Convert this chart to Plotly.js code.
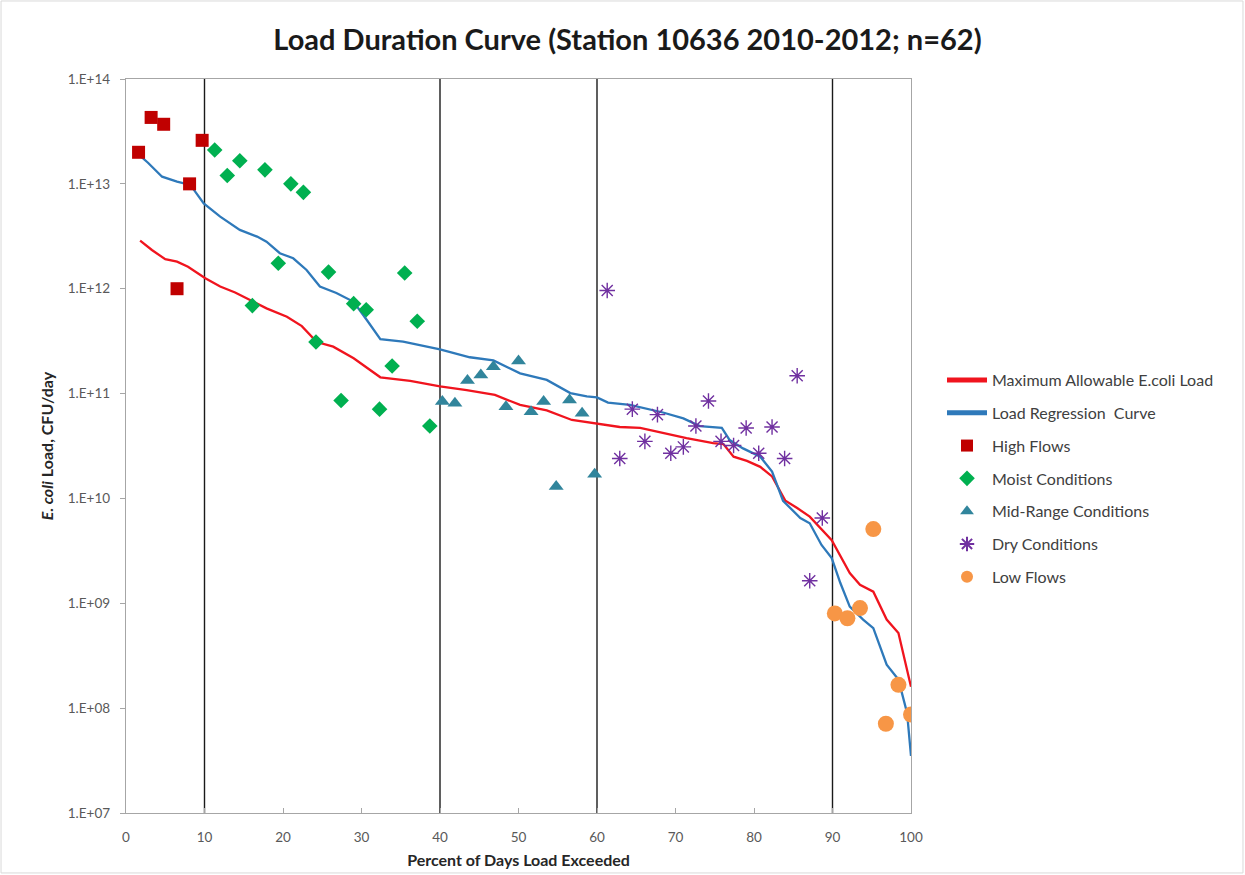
<!DOCTYPE html>
<html>
<head>
<meta charset="utf-8">
<script src="https://cdn.plot.ly/plotly-3.0.1.min.js"></script>
<style>
  html, body { margin: 0; padding: 0; background: #ffffff; }
  #chart { width: 1245px; height: 875px; }
</style>
</head>
<body>
<div id="chart"></div>
<script>
// ---- Data ----
const titleText = 'Load Duration Curve (Station 10636 2010-2012; n=62)';

// Maximum Allowable E.coli Load (red line)
const xMax = [1.8, 3.3, 5.0, 6.5, 7.9, 10.1, 12.0, 13.9, 15.8, 17.9, 20.5, 22.4, 24.3, 26.4, 29.0, 32.4, 36.2, 40.0, 43.4, 47.0, 50.2, 53.6, 56.8, 60.0, 62.9, 65.5, 68.4, 71.4, 74.8, 76.1, 77.4, 79.1, 80.8, 82.3, 84.0, 85.5, 87.1, 89.9, 92.2, 93.5, 95.2, 96.9, 98.4, 100];
const yMax = [2.88e12, 2.34e12, 1.91e12, 1.81e12, 1.62e12, 1.26e12, 1.05e12, 9.2e11, 7.8e11, 6.5e11, 5.4e11, 4.4e11, 3.1e11, 2.8e11, 2.17e11, 1.43e11, 1.32e11, 1.17e11, 1.08e11, 9.7e10, 7.8e10, 6.9e10, 5.6e10, 5.2e10, 4.8e10, 4.7e10, 4.2e10, 3.76e10, 3.37e10, 3.3e10, 2.5e10, 2.28e10, 2.0e10, 1.62e10, 9.5e9, 8.1e9, 6.7e9, 4.0e9, 1.94e9, 1.5e9, 1.29e9, 7.0e8, 5.2e8, 1.6e8];

// Load Regression Curve (blue line)
const xReg = [1.7, 2.8, 4.6, 6.5, 8.2, 9.9, 12.0, 14.5, 16.7, 17.9, 19.6, 21.3, 23.0, 24.7, 26.8, 29.0, 30.7, 32.4, 35.3, 40.0, 43.8, 46.8, 50.2, 53.6, 56.6, 58.7, 60.0, 61.4, 64.2, 68.4, 71.0, 73.1, 75.9, 76.9, 78.6, 80.8, 82.3, 83.7, 85.9, 87.1, 88.6, 89.9, 91.0, 92.2, 93.9, 95.2, 96.9, 98.4, 99.5, 100];
const yReg = [1.88e13, 1.59e13, 1.17e13, 1.05e13, 9.77e12, 6.5e12, 4.87e12, 3.64e12, 3.14e12, 2.81e12, 2.18e12, 1.95e12, 1.51e12, 1.05e12, 9.1e11, 7.5e11, 5.0e11, 3.3e11, 3.13e11, 2.64e11, 2.22e11, 2.07e11, 1.56e11, 1.35e11, 1.01e11, 9.4e10, 9.2e10, 8.2e10, 7.8e10, 6.6e10, 5.8e10, 4.9e10, 4.7e10, 3.6e10, 3.0e10, 2.5e10, 1.8e10, 9.5e9, 6.5e9, 5.8e9, 3.6e9, 2.7e9, 1.56e9, 9.3e8, 7.0e8, 5.8e8, 2.6e8, 1.87e8, 9.0e7, 3.5e7];

// High Flows
const xHigh = [1.6, 3.2, 4.8, 6.5, 8.1, 9.7];
const yHigh = [2.0e13, 4.3e13, 3.7e13, 1.0e12, 1.0e13, 2.6e13];

// Moist Conditions
const xMoist = [11.3, 12.9, 14.5, 16.1, 17.7, 19.4, 21.0, 22.6, 24.2, 25.8, 27.4, 29.0, 30.6, 32.3, 33.9, 35.5, 37.1, 38.7];
const yMoist = [2.1e13, 1.2e13, 1.66e13, 6.9e11, 1.36e13, 1.75e12, 1.0e13, 8.3e12, 3.1e11, 1.44e12, 8.6e10, 7.2e11, 6.3e11, 7.1e10, 1.83e11, 1.41e12, 4.9e11, 4.9e10];

// Mid-Range Conditions
const xMid = [40.3, 41.9, 43.5, 45.2, 46.8, 48.4, 50.0, 51.6, 53.2, 54.8, 56.5, 58.1, 59.7];
const yMid = [8.4e10, 8.1e10, 1.33e11, 1.5e11, 1.8e11, 7.5e10, 2.05e11, 6.7e10, 8.4e10, 1.3e10, 8.7e10, 6.5e10, 1.7e10];

// Dry Conditions
const xDry = [61.3, 62.9, 64.5, 66.1, 67.7, 69.4, 71.0, 72.6, 74.2, 75.8, 77.4, 79.0, 80.6, 82.3, 83.9, 85.5, 87.1, 88.7];
const yDry = [9.6e11, 2.4e10, 7.1e10, 3.5e10, 6.3e10, 2.7e10, 3.1e10, 4.9e10, 8.5e10, 3.5e10, 3.2e10, 4.7e10, 2.7e10, 4.8e10, 2.4e10, 1.48e11, 1.64e9, 6.5e9];

// Low Flows
const xLow = [90.3, 91.9, 93.5, 95.2, 96.8, 98.4, 100];
const yLow = [8.0e8, 7.2e8, 9.0e8, 5.1e9, 7.1e7, 1.67e8, 8.7e7];

// Flow-zone divider positions (percent)
const dividers = [10, 40, 60, 90];

// Axis ticks
const yTickVals = [1e7, 1e8, 1e9, 1e10, 1e11, 1e12, 1e13, 1e14];
const yTickText = ['1.E+07', '1.E+08', '1.E+09', '1.E+10', '1.E+11', '1.E+12', '1.E+13', '1.E+14'];
const xTickVals = [0, 10, 20, 30, 40, 50, 60, 70, 80, 90, 100];

// ---- Chart ----
const FONT = 'Lato, "Open Sans", "DejaVu Sans", sans-serif';

const traces = [
  { x: xMax, y: yMax, name: 'Maximum Allowable E.coli Load', type: 'scatter', mode: 'lines',
    line: { color: '#F0141E', width: 2.3 }, legendgroup: 'a' },
  { x: xReg, y: yReg, name: 'Load Regression  Curve', type: 'scatter', mode: 'lines',
    line: { color: '#2E79BA', width: 2.3 }, legendgroup: 'b' },
  { x: xHigh, y: yHigh, name: 'High Flows', type: 'scatter', mode: 'markers',
    marker: { symbol: 'square', size: 13, color: '#C00000' }, legendgroup: 'c' },
  { x: xMoist, y: yMoist, name: 'Moist Conditions', type: 'scatter', mode: 'markers',
    marker: { symbol: 'diamond', size: 12, color: '#00B050' }, legendgroup: 'd' },
  { x: xMid, y: yMid, name: 'Mid-Range Conditions', type: 'scatter', mode: 'markers',
    marker: { symbol: 'triangle-up', size: 13, color: '#31859C' }, legendgroup: 'e' },
  { x: xDry, y: yDry, name: 'Dry Conditions', type: 'scatter', mode: 'markers',
    marker: { symbol: 'asterisk-open', size: 13, color: '#7030A0', line: { color: '#7030A0', width: 1.4 } }, legendgroup: 'f' },
  { x: xLow, y: yLow, name: 'Low Flows', type: 'scatter', mode: 'markers',
    marker: { symbol: 'circle', size: 16, color: '#F79646' }, legendgroup: 'g' }
];

const shapes = dividers.map(v => ({
  type: 'line', xref: 'x', yref: 'paper', x0: v, x1: v, y0: 0, y1: 1,
  line: { color: '#1A1A1A', width: 1.4 }, layer: 'below'
}));
// outer chart frame
shapes.push({ type: 'rect', xref: 'paper', yref: 'paper',
  x0: -0.1592, x1: 1.4229, y0: -0.0817, y1: 1.1063,
  line: { color: '#D9D9D9', width: 1 }, fillcolor: 'rgba(0,0,0,0)' });

const layout = {
  width: 1245, height: 875,
  margin: { l: 126, r: 334, t: 79, b: 62, pad: 0 },
  paper_bgcolor: '#ffffff', plot_bgcolor: '#ffffff',
  font: { family: FONT, color: '#404040', size: 13 },
  title: { text: titleText, x: 0.504, xanchor: 'center', y: 0.955, yanchor: 'middle',
    font: { family: FONT, size: 29, color: '#1A1A1A', weight: 'bold' } },
  xaxis: {
    type: 'linear', range: [0, 100], tickvals: xTickVals,
    showgrid: false, zeroline: false,
    showline: true, linecolor: '#A6A6A6', linewidth: 1.2, mirror: true,
    ticks: 'inside', ticklen: 5, tickcolor: '#A6A6A6', ticklabelstandoff: 12,
    tickfont: { family: FONT, size: 13.5, color: '#595959' },
    title: { text: 'Percent of Days Load Exceeded', standoff: 10,
      font: { family: FONT, size: 16, color: '#262626', weight: 'bold' } }
  },
  yaxis: {
    type: 'log', range: [7, 14], tickvals: yTickVals, ticktext: yTickText,
    showgrid: false, zeroline: false,
    showline: true, linecolor: '#A6A6A6', linewidth: 1.2, mirror: true,
    ticks: 'outside', ticklen: 5, tickcolor: '#A6A6A6', ticklabelstandoff: 7,
    tickfont: { family: FONT, size: 13.5, color: '#595959' },
    title: { text: '<i>E. coli</i> Load, CFU/day', standoff: 10,
      font: { family: FONT, size: 16, color: '#262626', weight: 'bold' } }
  },
  showlegend: true,
  legend: {
    x: 1.0395, xanchor: 'left', y: 0.613, yanchor: 'top',
    traceorder: 'grouped', tracegroupgap: 9, itemsizing: 'constant', itemwidth: 40,
    font: { family: FONT, size: 16, color: '#404040' },
    bgcolor: 'rgba(0,0,0,0)', borderwidth: 0
  },
  shapes: shapes
};

Plotly.newPlot('chart', traces, layout, { displayModeBar: false, staticPlot: true });
</script>
</body>
</html>
